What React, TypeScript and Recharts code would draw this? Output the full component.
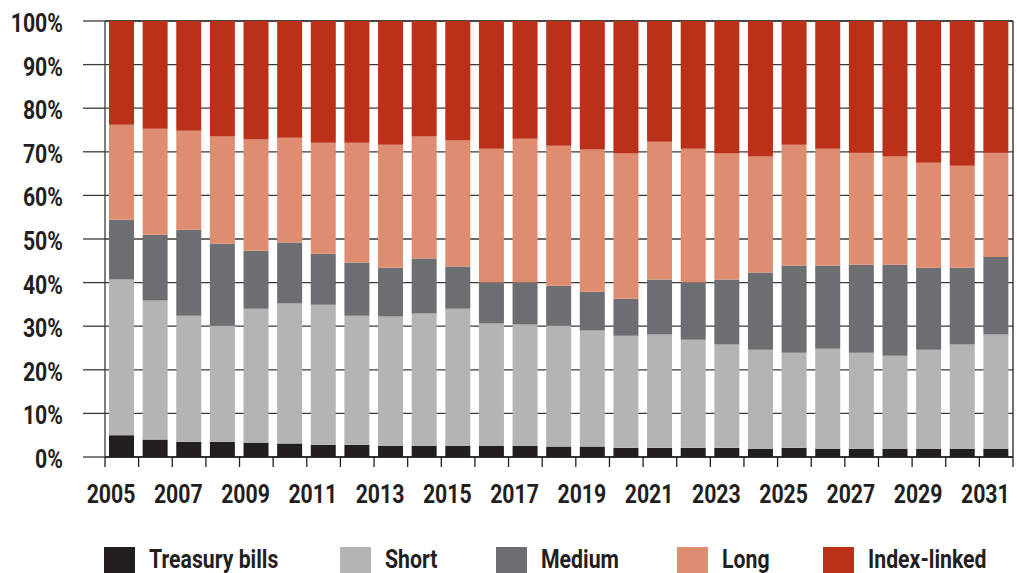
import React from 'react';
import { BarChart, Bar, XAxis, YAxis, CartesianGrid, ReferenceLine, Legend } from 'recharts';

const YEARS = [
  '2005', '2006', '2007', '2008', '2009', '2010', '2011', '2012', '2013',
  '2014', '2015', '2016', '2017', '2018', '2019', '2020', '2021', '2022',
  '2023', '2024', '2025', '2026', '2027', '2028', '2029', '2030', '2031',
];
const TREASURY = [5.0, 4.0, 3.5, 3.5, 3.3, 3.1, 2.8, 2.8, 2.6, 2.6, 2.6, 2.6, 2.6, 2.4, 2.4, 2.1, 2.1, 2.1, 2.1, 1.9, 2.1, 1.9, 1.9, 1.9, 1.9, 1.9, 1.9];
const SHORT = [35.7, 31.9, 28.9, 26.6, 30.7, 32.1, 32.1, 29.6, 29.6, 30.3, 31.4, 28.0, 27.8, 27.7, 26.6, 25.7, 26.0, 24.8, 23.7, 22.7, 21.8, 22.9, 22.0, 21.3, 22.7, 23.9, 26.2];
const MEDIUM = [13.7, 15.1, 19.7, 18.8, 13.3, 14.0, 11.7, 12.2, 11.2, 12.6, 9.7, 9.4, 9.6, 9.2, 8.9, 8.5, 12.6, 13.1, 14.9, 17.7, 20.0, 19.1, 20.2, 20.9, 18.8, 17.6, 17.8];
const LONG = [21.8, 24.3, 22.7, 24.6, 25.5, 24.0, 25.5, 27.5, 28.2, 28.0, 28.9, 30.7, 33.0, 32.1, 32.6, 33.3, 31.6, 30.7, 28.9, 26.6, 27.7, 26.8, 25.7, 24.8, 24.1, 23.4, 23.9];
const INDEX_LINKED = [23.8, 24.7, 25.2, 26.5, 27.2, 26.8, 27.9, 27.9, 28.4, 26.5, 27.4, 29.3, 27.0, 28.6, 29.5, 30.4, 27.7, 29.3, 30.4, 31.1, 28.4, 29.3, 30.2, 31.1, 32.5, 33.2, 30.2];

const Y_TICKS = [0, 10, 20, 30, 40, 50, 60, 70, 80, 90, 100];
// year i occupies the slot [i, i+1] on the x axis, ticks sit on the slot edges
const EDGE_TICKS = YEARS.map((_, i) => i).concat([YEARS.length]);

const SERIES = [
  { key: 'treasury', name: 'Treasury bills', color: '#231f20' },
  { key: 'short', name: 'Short', color: '#b3b4b6' },
  { key: 'medium', name: 'Medium', color: '#6d6e72' },
  { key: 'long', name: 'Long', color: '#df8d70' },
  { key: 'index', name: 'Index-linked', color: '#bb3019' },
];
// legend slot widths, so the items line up like the original
const LEGEND_SLOTS = [236, 156, 181, 146, 190];

const data = YEARS.map((year, i) => ({
  year,
  slot: i + 0.5,
  treasury: TREASURY[i],
  short: SHORT[i],
  medium: MEDIUM[i],
  long: LONG[i],
  index: INDEX_LINKED[i],
}));

const FONT = 'Roboto, "DejaVu Sans Condensed", sans-serif';
const INK = '#231f20';
const GRID = '#3a3a3a';
const SQUEEZE = 0.85;

const PercentTick = (props: any) => {
  const { x, y, payload } = props;
  return (
    <g transform={`translate(${x},${y})`}>
      <text transform={`scale(${SQUEEZE},1)`} textAnchor="end" dy={11} fontFamily={FONT} fontWeight={700} fontSize={25} fill={INK}>
        {`${payload.value}%`}
      </text>
    </g>
  );
};

// a label every other year, just right of the slot's left edge
const EdgeTick = (props: any) => {
  const { x, y, payload } = props;
  const v = payload.value as number;
  if (v % 2 !== 0 || v >= YEARS.length) return <g />;
  return (
    <g transform={`translate(${x + 6},${y})`}>
      <text transform={`scale(${SQUEEZE},1)`} textAnchor="middle" dy={36} fontFamily={FONT} fontWeight={700} fontSize={25} fill={INK}>
        {YEARS[v]}
      </text>
    </g>
  );
};

const LegendRow = () => (
  <div style={{ display: 'flex', paddingLeft: 104, height: 28, boxSizing: 'border-box', alignItems: 'flex-start', paddingTop: 2 }}>
    {SERIES.map((s, i) => (
      <div key={s.key} style={{ display: 'flex', alignItems: 'flex-start', gap: 14, width: LEGEND_SLOTS[i], flex: 'none' }}>
        <span style={{ width: 31, height: 31, background: s.color, display: 'inline-block', flex: 'none' }} />
        <span
          style={{
            fontFamily: FONT, fontWeight: 700, fontSize: 25, lineHeight: '25px', color: INK,
            whiteSpace: 'nowrap', display: 'inline-block', transform: `scaleX(${SQUEEZE})`, transformOrigin: 'left top',
          }}
        >
          {s.name}
        </span>
      </div>
    ))}
  </div>
);

export default function App() {
  return (
    <div style={{ position: 'absolute', left: 0, top: 0, width: 1017, height: 573, overflow: 'hidden', background: '#fff' }}>
      <BarChart width={1017} height={573} data={data} margin={{ top: 21, right: 4, left: 0, bottom: 0 }}>
        <CartesianGrid vertical={false} stroke={GRID} strokeWidth={1.3} />
        <XAxis
          dataKey="slot"
          type="number"
          domain={[0, YEARS.length]}
          allowDataOverflow
          ticks={EDGE_TICKS}
          interval={0}
          height={88}
          tickSize={10}
          tickMargin={0}
          stroke={INK}
          strokeWidth={1.3}
          tick={<EdgeTick />}
        />
        <YAxis
          domain={[0, 100]}
          ticks={Y_TICKS}
          width={105}
          tickSize={22}
          tickMargin={20}
          stroke={GRID}
          strokeWidth={1.3}
          tick={<PercentTick />}
        />
        <ReferenceLine x={YEARS.length} stroke={INK} strokeWidth={1.3} />
        {SERIES.map((s) => (
          <Bar key={s.key} dataKey={s.key} name={s.name} stackId="a" fill={s.color} barSize={25} isAnimationActive={false} />
        ))}
        <Legend verticalAlign="bottom" content={<LegendRow />} />
      </BarChart>
    </div>
  );
}
